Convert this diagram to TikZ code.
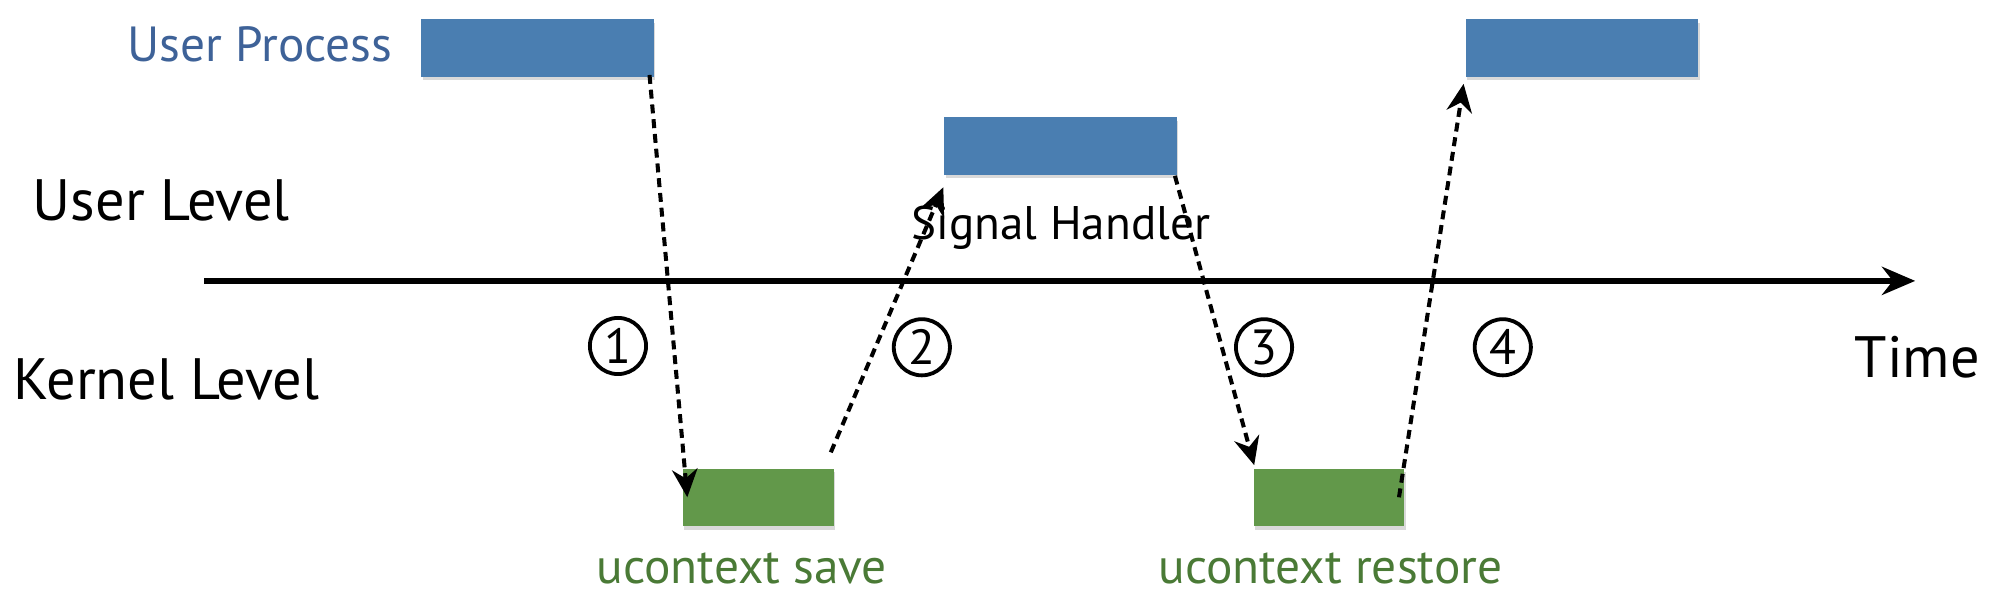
\documentclass[tikz,border=0pt]{standalone}
\usepackage{fontspec}
\setmainfont{PT Sans}
\usetikzlibrary{arrows.meta,shadows,calc}
\definecolor{procblue}{RGB}{74,126,177}
\definecolor{proctext}{RGB}{62,98,152}
\definecolor{ctxgreen}{RGB}{98,152,74}
\definecolor{ctxtext}{RGB}{74,122,54}

\tikzset{
  procbox/.style={fill=procblue, minimum width=1.82cm, minimum height=0.45cm, inner sep=0pt,
    drop shadow={shadow xshift=0.3pt, shadow yshift=-0.8pt, opacity=0.3}},
  ctxbox/.style={fill=ctxgreen, minimum width=1.18cm, minimum height=0.45cm, inner sep=0pt,
    drop shadow={shadow xshift=0.3pt, shadow yshift=-0.8pt, opacity=0.3}},
  levellabel/.style={font=\fontsize{13}{15}\selectfont, inner sep=0pt},
  boxlabel/.style={font=\fontsize{11}{13}\selectfont, inner sep=0pt},
  stepmark/.style={draw, circle, line width=0.85pt, minimum size=0.44cm, inner sep=0pt,
    font=\fontsize{11}{13}\selectfont},
  jump/.style={line width=0.9pt, dash pattern=on 2pt off 1.3pt, -{Stealth[length=2.2mm,width=2mm]}}
}

\begin{document}
\begin{tikzpicture}
        \useasboundingbox (0,0) rectangle (15.68,4.74);

        % Levels and time axis
        \node[levellabel, anchor=west] (userlvl) at (0.25,3.17) {User Level};
        \node[levellabel, anchor=west] (kernlvl) at (0.10,1.77) {Kernel Level};
        \coordinate (tstart) at (1.60,2.54);
        \coordinate (tend) at (15.00,2.54);
        \draw[line width=1.3pt, -{Stealth[length=2.6mm,width=2.2mm]}] (tstart) -- (tend);
        \node[levellabel, anchor=west] (time) at (14.52,1.94) {Time};

        % User side boxes
        \node[procbox] (proc1) at (4.21,4.365) {};
        \node[boxlabel, text=proctext, anchor=east] (proclbl) at (3.08,4.39) {User Process};
        \node[procbox] (handler) at (8.305,3.595) {};
        \node[boxlabel, font=\fontsize{10.5}{13}\selectfont] (handlerlbl) at (8.31,2.96) {Signal Handler};
        \node[procbox] (proc2) at (12.39,4.365) {};

        % Kernel side boxes
        \node[ctxbox] (save) at (5.94,0.845) {};
        \node[boxlabel, text=ctxtext] (savelbl) at (5.81,0.29) {ucontext save};
        \node[ctxbox] (restore) at (10.41,0.845) {};
        \node[boxlabel, text=ctxtext] (restorelbl) at (10.42,0.29) {ucontext restore};

        % Steps
        \node[stepmark] (s1) at (4.84,2.03) {1};
        \node[stepmark] (s2) at (7.22,2.02) {2};
        \node[stepmark] (s3) at (9.90,2.02) {3};
        \node[stepmark] (s4) at (11.77,2.02) {4};

        % Transitions
        \draw[jump] ($(proc1.south east)+(-0.04,0.02)$) -- ($(save.west)+(0.04,0)$);
        \draw[jump] ($(save.north east)+(-0.03,0.12)$) -- ($(handler.south west)+(0,-0.09)$);
        \draw[jump] ($(handler.south east)+(-0.02,0)$) -- ($(restore.north west)+(0.01,0.02)$);
        \draw[jump] ($(restore.east)+(-0.05,0)$) -- ($(proc2.south west)+(-0.01,-0.05)$);
\end{tikzpicture}
\end{document}
